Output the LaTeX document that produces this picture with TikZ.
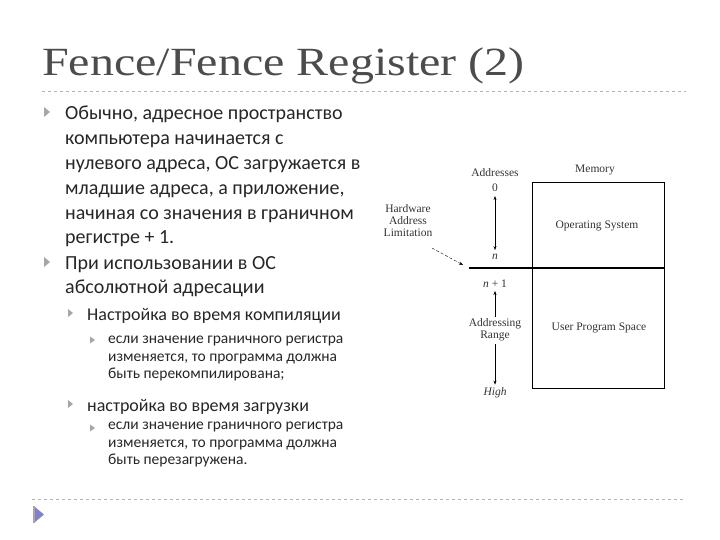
\documentclass[tikz,border=0pt]{standalone}
\usepackage{fontspec}
\setmainfont{Carlito}
\newfontfamily\serifx{Liberation Serif}
\usetikzlibrary{arrows.meta,calc}
\begin{document}
\begin{tikzpicture}[x=1pt,y=-1pt,
  body/.style={anchor=north west,font=\fontsize{20}{24.8}\selectfont,text=black!85,align=left,inner sep=0pt},
  dg/.style={font=\serifx\fontsize{11.5}{12}\selectfont,text=black!80,inner sep=0pt,align=center},
  arr/.style={-{Stealth[length=4pt,width=3pt]},thin}]
\useasboundingbox (0,0) rectangle (720,540);
\node[anchor=west,font=\serifx\fontsize{40}{44}\selectfont,text=black!70,inner sep=0pt,xscale=1.2] (title) at (42,66) {Fence/Fence Register (2)};
\draw[gray!60,dashed] (42,91) -- (686,91);
\draw[gray!60,dashed] (32,499) -- (686,499);
\fill[blue!40!gray!70] (35,507) -- (35,522) -- (44,514.5) -- cycle;
\fill[gray!70] (33,506) rectangle (35,523);
% bullets
\foreach \y in {112,262} \fill[gray!70] (44,\y-5) -- (44,\y+5) -- (50,\y) -- cycle;
\foreach \y in {313,404} \fill[gray!70] (68,\y-4) -- (68,\y+4) -- (73,\y) -- cycle;
\foreach \y in {340,428} \fill[gray!70] (90,\y-3.5) -- (90,\y+3.5) -- (95,\y) -- cycle;
\node[body] (t1) at (65,106) {Обычно, адресное пространство\\компьютера начинается с\\нулевого адреса, ОС загружается в\\младшие адреса, а приложение,\\начиная со значения в граничном\\регистре + 1.};
\node[body] (t2) at (65,256) {При использовании в ОС\\абсолютной адресации};
\node[body,font=\fontsize{18}{20}\selectfont] (t3) at (87,308) {Настройка во время компиляции};
\node[body,font=\fontsize{15.5}{17.5}\selectfont] (t4) at (108,336) {если значение граничного регистра\\изменяется, то программа должна\\быть перекомпилирована;};
\node[body,font=\fontsize{18}{20}\selectfont] (t5) at (87,399) {настройка во время загрузки};
\node[body,font=\fontsize{15.5}{17.5}\selectfont] (t6) at (108,422) {если значение граничного регистра\\изменяется, то программа должна\\быть перезагружена.};
% diagram
\draw[thin] (532,182) rectangle (664,388);
\draw[line width=1.6pt] (469,268) coordinate (lim) -- (664,268);
\node[dg] (mem) at (595,170) {Memory};
\node[dg] (os) at (597,226) {Operating System};
\node[dg] (ups) at (599,328) {User Program Space};
\node[dg] (addr) at (495,173) {Addresses};
\node[dg] (zero) at (495,188) {0};
\node[dg] (n) at (495,257) {\itshape n};
\node[dg] (n1) at (495,284) {\itshape n\upshape\ + 1};
\node[dg] (rng) at (495,330) {Addressing\\Range};
\node[dg] (high) at (495,393) {\itshape High};
\node[dg] (hw) at (408,221) {Hardware\\Address\\Limitation};
\draw[{Stealth[length=4pt,width=3pt]}-{Stealth[length=4pt,width=3pt]},thin] ($(zero.south)+(0,4)$) -- ($(n.north)+(0,-4)$);
\draw[arr] ($(rng.north)+(0,-2)$) -- ($(n1.south)+(0,3)$);
\draw[arr] ($(rng.south)+(0,3)$) -- ($(high.north)+(0,-3)$);
\draw[arr,densely dashed] (432,248) -- ($(lim)+(-6,-3)$);
\end{tikzpicture}
\end{document}
